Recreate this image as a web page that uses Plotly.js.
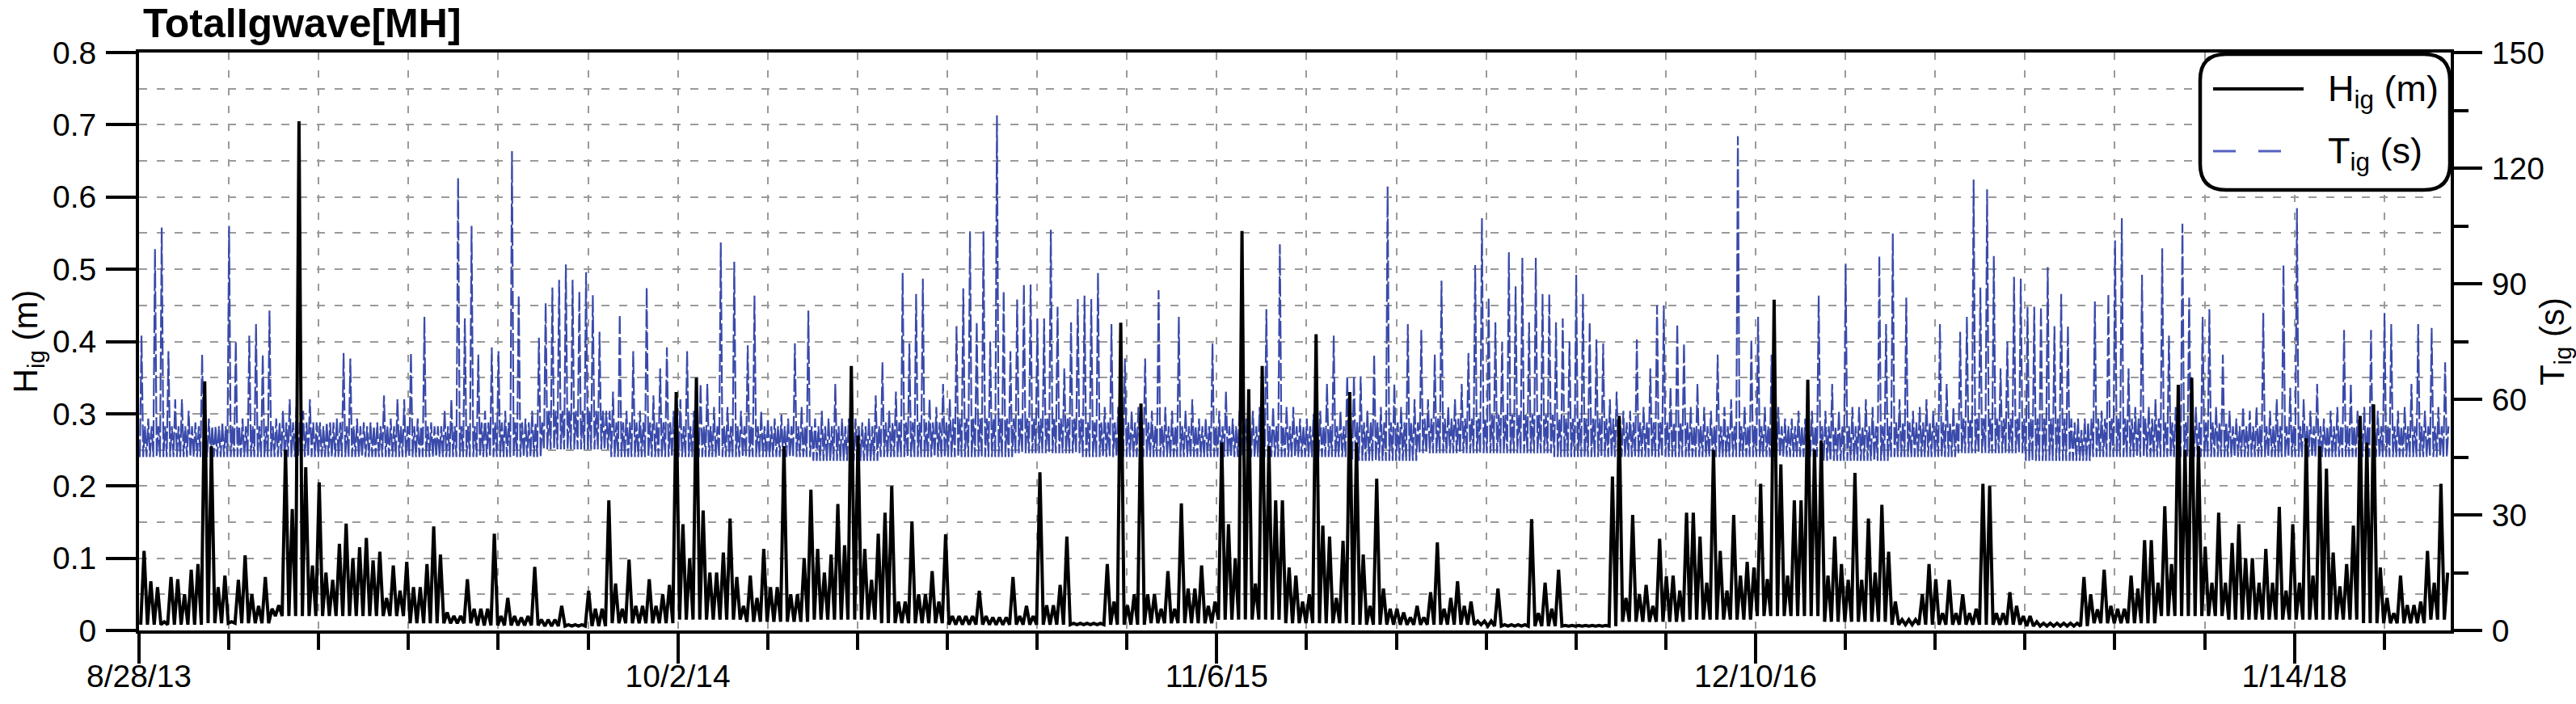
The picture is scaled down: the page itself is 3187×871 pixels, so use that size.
<!DOCTYPE html>
<html><head><meta charset="utf-8">
<script src="https://cdn.plot.ly/plotly-3.0.1.min.js"></script>
<style>html,body{margin:0;padding:0;background:#fff}#chart{width:3187px;height:871px}</style>
</head><body><div id="chart"></div>
<script>
// ---- data ----
const startDate = Date.UTC(2013, 7, 28);   // 8/28/13, left edge of the x axis
const spanDays = 1716;                     // length of the record shown
const binDays = 5;                         // one peak value per 5-day bin
const periodDays = 50;                     // one floor / band-top value per 50 days
const majorTickDays = [0, 400, 800, 1200, 1600];
const tickLabels = ['8/28/13', '10/2/14', '11/6/15', '12/10/16', '1/14/18'];

// H_ig (m): peak of each 5-day bin
const higPeak = [
0.11,0.068,0.06,0.012,0.074,0.071,0.05,0.084,0.092,0.345,
0.255,0.06,0.076,0.012,0.07,0.104,0.05,0.034,0.074,0.03,
0.035,0.25,0.168,0.705,0.226,0.09,0.205,0.08,0.07,0.12,
0.148,0.1,0.115,0.128,0.097,0.109,0.045,0.09,0.055,0.095,
0.06,0.06,0.092,0.144,0.105,0.025,0.02,0.02,0.071,0.03,
0.03,0.03,0.134,0.02,0.045,0.02,0.018,0.02,0.088,0.015,
0.015,0.015,0.034,0.008,0.008,0.008,0.055,0.03,0.03,0.18,
0.065,0.03,0.098,0.034,0.034,0.071,0.034,0.05,0.063,0.33,
0.147,0.1,0.35,0.166,0.08,0.08,0.108,0.155,0.074,0.034,
0.076,0.045,0.113,0.06,0.06,0.255,0.05,0.05,0.1,0.195,
0.113,0.08,0.105,0.175,0.118,0.366,0.27,0.113,0.07,0.134,
0.163,0.2,0.04,0.04,0.151,0.05,0.05,0.082,0.04,0.133,
0.02,0.02,0.02,0.02,0.055,0.02,0.018,0.018,0.018,0.074,
0.02,0.034,0.02,0.219,0.035,0.035,0.063,0.13,0.01,0.01,
0.01,0.01,0.01,0.092,0.04,0.426,0.035,0.05,0.314,0.05,
0.05,0.03,0.082,0.03,0.176,0.058,0.058,0.09,0.034,0.04,
0.26,0.147,0.1,0.553,0.334,0.065,0.366,0.255,0.18,0.18,
0.087,0.076,0.04,0.05,0.41,0.145,0.13,0.045,0.124,0.33,
0.26,0.105,0.034,0.21,0.058,0.03,0.03,0.025,0.018,0.034,
0.018,0.053,0.122,0.03,0.045,0.068,0.034,0.04,0.013,0.013,
0.013,0.058,0.008,0.008,0.008,0.008,0.154,0.024,0.066,0.03,
0.084,0.007,0.007,0.007,0.007,0.007,0.007,0.007,0.213,0.297,
0.045,0.16,0.05,0.063,0.034,0.127,0.075,0.076,0.055,0.163,
0.163,0.13,0.066,0.25,0.11,0.055,0.16,0.076,0.095,0.087,
0.203,0.071,0.458,0.23,0.076,0.18,0.18,0.347,0.25,0.263,
0.076,0.13,0.092,0.07,0.218,0.07,0.155,0.08,0.174,0.109,
0.04,0.015,0.015,0.015,0.05,0.092,0.071,0.024,0.07,0.024,
0.05,0.024,0.03,0.203,0.2,0.024,0.024,0.053,0.034,0.02,
0.02,0.012,0.01,0.01,0.01,0.01,0.01,0.01,0.074,0.05,
0.029,0.084,0.034,0.03,0.03,0.076,0.058,0.125,0.125,0.066,
0.172,0.092,0.34,0.25,0.35,0.255,0.116,0.066,0.163,0.066,
0.121,0.147,0.1,0.1,0.066,0.113,0.066,0.171,0.055,0.147,
0.066,0.266,0.076,0.255,0.224,0.108,0.061,0.092,0.145,0.297,
0.26,0.313,0.087,0.045,0.024,0.076,0.035,0.035,0.04,0.11,
0.066,0.203,0.08
];
// H_ig (m): floor of the trace, per 50-day period
const higFloor = [0.008,0.01,0.02,0.02,0.01,0.007,0.006,0.01,0.015,0.012,0.015,0.01,0.008,0.008,0.008,0.01,0.015,0.01,0.008,0.008,0.006,0.006,0.012,0.015,0.02,0.012,0.008,0.008,0.006,0.01,0.02,0.015,0.015,0.01,0.015];

// T_ig (s): peak of each 5-day bin
const tigPeak = [
76.5,55,99,104.6,72.5,60,60,57,54,71.6,
55,53,54,105,75,55,76.5,79.5,71.6,83,
55,57,60,58,57,60,54,53,54,55,
72,70.6,55,54,54,54,61,55,60,60,
72,55,81.4,54,53,57,60,117.5,81,105,
71.6,57,73.5,72.5,57,124.4,87,55,57,76,
85,89,91,95,91,88,93,87,77.5,57,
62,82,57,72.5,57,89,61,68,73.5,57,
60,72.5,57,64,64,58,100.7,58,95.7,57,
74,86.9,57,55,55,56,55,74.5,58,83,
55,57,55,64,55,55,55,54,55,61,
69.6,57,62,92.8,74.5,87.3,91.3,60,58,64,
60,79,88.8,103.6,80,103.6,75,133.7,88,72.5,
85.9,89.8,89.8,81,81,104,84,68,80,86,
86.9,86,92.8,58,79.5,58,70.6,57,58,70.6,
57,88.3,58,57,81.4,57,60,55,55,74.5,
57,62,55,57,55,57,58,83.4,58,100.2,
58,58,55,55,56,57,64,76.5,57,66,
66,66,57,71.6,58,115.2,64,58,79.5,60,
78,60,71.6,90.8,58,60,64,72,94.8,107,
86.4,80,75,98.2,89.3,96.7,80,96.7,87.3,87.3,
80,81,75,92.3,87.3,80,75.5,74.5,60,62,
57,57,75.5,58,68,84.4,84.4,63,79.5,74.5,
58,64,58,57,71.6,58,60,128.3,58,75.5,
81.4,58,71.6,58,55,55,57,55,57,86.9,
57,64,57,95.2,58,58,60,58,97.2,79.5,
103,60,86.4,57,58,60,57,79.5,64,58,
77.5,81.4,117,89,114.5,97.2,68,75,91.8,91.3,
84,84,84,94.3,79,87.3,79,54,52,54,
85.4,57,87.3,101.2,107,68,58,92.3,58,60,
99.2,76.5,58,105.6,86.4,58,81.4,83.4,58,71.6,
57,55,58,57,58,82.4,57,60,94.8,63,
109.6,60,57,64,55,57,58,78,64,57,
58,78,57,82.4,79.5,57,58,64,79.5,57,
78.5,58,69.6
];
// T_ig (s): floor and typical top of the dense band, per 50-day period
const tigFloor = [45,45,45,45,45,45,47,45,45,45,44,45,45,46,45,45,45,45,44,46,46,45,45,45,45,44,45,46,44,45,45,45,45,45,45];
const tigBand  = [53,53,54,53,53,54,57,54,53,53,53,54,55,55,54,53,53,53,54,55,56,55,54,53,53,53,54,55,55,55,54,53,53,53,53];

// ---- build the traces ----
const DAY = 86400000;
// H: floor then peak in each bin
function hSeries(peaks, floors) {
  const x = [], y = [];
  peaks.forEach((v, i) => {
    const d = i * binDays, p = Math.floor(d / periodDays);
    x.push(startDate + (d + 1.25) * DAY); y.push(floors[p]);
    x.push(startDate + (d + 3.75) * DAY); y.push(v);
  });
  return {x, y};
}
// T: floor, peak, floor, band-top in each bin
function tSeries(peaks, floors, bands) {
  const x = [], y = [];
  peaks.forEach((v, i) => {
    const d = i * binDays, p = Math.floor(d / periodDays);
    x.push(startDate + (d + 0.6) * DAY);  y.push(floors[p]);
    x.push(startDate + (d + 1.85) * DAY); y.push(v);
    x.push(startDate + (d + 3.1) * DAY);  y.push(floors[p]);
    x.push(startDate + (d + 4.35) * DAY); y.push(bands[p]);
  });
  return {x, y};
}
const Hs = hSeries(higPeak, higFloor);
const Ts = tSeries(tigPeak, tigFloor, tigBand);

const blue = '#3a4aaa';
const traces = [
  {type:'scatter', mode:'lines', name:'H<sub>ig</sub> (m)', x:Hs.x, y:Hs.y, yaxis:'y2',
   line:{color:'#000', width:4, simplify:false}, hoverinfo:'skip'},
  {type:'scatter', mode:'lines', name:'T<sub>ig</sub> (s)', x:Ts.x, y:Ts.y, yaxis:'y',
   line:{color:blue, width:2.2, dash:'22px,4px', simplify:false}, hoverinfo:'skip'}
];

// ---- layout ----
const W = 3187, Hgt = 871, L = 172, R = 3032, TOP = 65, BOT = 780;
const px = x => (x - L) / (R - L);
const py = y => (BOT - y) / (BOT - TOP);
const grid = '#9a9a9a';
const majorVals = majorTickDays.map(d => startDate + d * DAY);
const minorVals = [];
for (let k = 0; k * 400 / 6 <= spanDays; k++) minorVals.push(startDate + k * 400 / 6 * DAY);

// rounded legend box
const bx0 = px(2722), bx1 = px(3031), by0 = py(235), by1 = py(67);
const rx = 32 / (R - L), ry = 32 / (BOT - TOP);
const boxPath = `M ${bx0+rx},${by1} L ${bx1-rx},${by1} Q ${bx1},${by1} ${bx1},${by1-ry} L ${bx1},${by0+ry} Q ${bx1},${by0} ${bx1-rx},${by0} L ${bx0+rx},${by0} Q ${bx0},${by0} ${bx0},${by0+ry} L ${bx0},${by1-ry} Q ${bx0},${by1} ${bx0+rx},${by1} Z`;

const axisCommon = {showline:true, linewidth:4, linecolor:'#000', ticks:'outside', tickwidth:4, tickcolor:'#000', zeroline:false, fixedrange:true, tickfont:{size:39}};

const layout = {
  width: W, height: Hgt,
  margin: {l: L, r: W - R, t: TOP, b: Hgt - BOT, pad: 0},
  paper_bgcolor: '#fff', plot_bgcolor: '#fff',
  font: {family: 'Liberation Sans, Arial, sans-serif', size: 39, color: '#000'},
  showlegend: false,
  hovermode: false,
  title: {text: '<b>TotalIgwave[MH]</b>', x: 177 / W, xref: 'container', xanchor: 'left',
          y: 1 - 28 / Hgt, yref: 'container', yanchor: 'middle', font: {size: 50, color: '#000'}},
  xaxis: Object.assign({}, axisCommon, {
    type: 'date', range: [startDate, startDate + spanDays * DAY], mirror: true,
    ticklen: 37, tickmode: 'array', tickvals: majorVals, ticktext: tickLabels, ticklabelstandoff: -18,
    showgrid: true, gridcolor: grid, gridwidth: 2, griddash: '9px,13px',
    minor: {tickmode: 'array', tickvals: minorVals, ticks: 'outside', ticklen: 20, tickwidth: 4, tickcolor: '#000',
            showgrid: true, gridcolor: grid, gridwidth: 2, griddash: '9px,13px'}
  }),
  yaxis: Object.assign({}, axisCommon, {
    side: 'right', range: [0, 150], tickmode: 'linear', tick0: 0, dtick: 30, ticklen: 35,
    showgrid: false, ticklabelstandoff: 4,
    minor: {tickmode: 'linear', tick0: 0, dtick: 15, ticks: 'outside', ticklen: 18, tickwidth: 4, tickcolor: '#000', showgrid: false},
    title: {text: 'T<sub>ig</sub> (s)', font: {size: 42}, standoff: 6}
  }),
  yaxis2: Object.assign({}, axisCommon, {
    overlaying: 'y', side: 'left', range: [0, 0.8], tickmode: 'linear', tick0: 0, dtick: 0.1, ticklen: 37,
    showgrid: true, gridcolor: grid, gridwidth: 2, griddash: '10px,12px', ticklabelstandoff: 4,
    minor: {tickmode: 'linear', tick0: 0, dtick: 0.05, ticks: '', showgrid: true, gridcolor: grid, gridwidth: 2, griddash: '10px,12px'},
    title: {text: 'H<sub>ig</sub> (m)', font: {size: 42}, standoff: 6}
  }),
  shapes: [
    {type: 'path', xref: 'paper', yref: 'paper', path: boxPath, fillcolor: '#fff', line: {color: '#000', width: 4.5}, layer: 'above'},
    {type: 'line', xref: 'paper', yref: 'paper', x0: px(2738), x1: px(2850), y0: py(110), y1: py(110), line: {color: '#000', width: 4}, layer: 'above'},
    {type: 'line', xref: 'paper', yref: 'paper', x0: px(2738), x1: px(2822), y0: py(187), y1: py(187), line: {color: '#5560c0', width: 3, dash: '28px,28px'}, layer: 'above'}
  ],
  annotations: [
    {xref: 'paper', yref: 'paper', x: px(2878), y: py(112), xanchor: 'left', yanchor: 'middle', showarrow: false,
     text: 'H<sub>ig</sub> (m)', font: {size: 45, color: '#000'}},
    {xref: 'paper', yref: 'paper', x: px(2878), y: py(189), xanchor: 'left', yanchor: 'middle', showarrow: false,
     text: 'T<sub>ig</sub> (s)', font: {size: 45, color: '#000'}}
  ]
};

Plotly.newPlot('chart', traces, layout, {displayModeBar: false, staticPlot: true});
</script></body></html>
